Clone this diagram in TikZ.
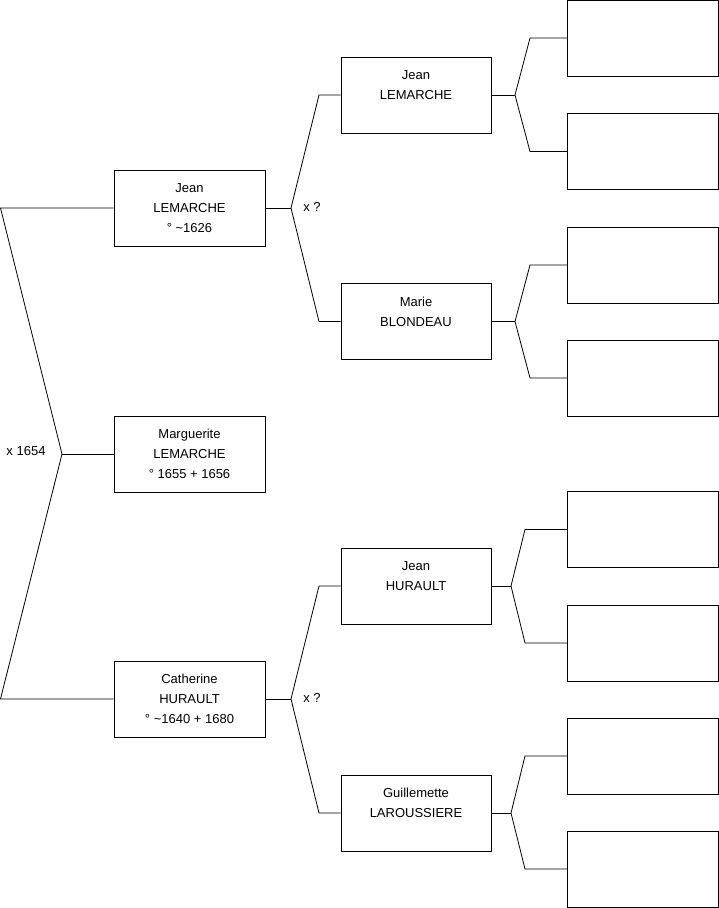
\documentclass[tikz,border=0pt]{standalone}
\usepackage{fontspec}
\setmainfont{Liberation Sans}
\begin{document}
\begin{tikzpicture}[x=1pt, y=-1pt, line width=0.8pt,
  person/.style={draw, minimum width=151pt, minimum height=76pt, align=center,
    inner sep=0pt, font=\fontsize{13}{20}\selectfont},
  tag/.style={font=\fontsize{13}{20}\selectfont}]
\useasboundingbox (0,0) rectangle (719,908);
% generation 1
\node[person] (jean) at (189.5,208) {Jean\\LEMARCHE\\° \textasciitilde1626};
\node[person] (marguerite) at (189.5,454) {Marguerite\\LEMARCHE\\° 1655 + 1656};
\node[person] (catherine) at (189.5,699) {Catherine\\HURAULT\\° \textasciitilde1640 + 1680};
% generation 2
\node[person, minimum width=150pt] (jeanp) at (416,95) {Jean\\LEMARCHE\\~};
\node[person, minimum width=150pt] (marie) at (416,321.5) {Marie\\BLONDEAU\\~};
\node[person, minimum width=150pt] (jeanh) at (416,586) {Jean\\HURAULT\\~};
\node[person, minimum width=150pt] (guillemette) at (416,813) {Guillemette\\LAROUSSIERE\\~};
% generation 3
\node[person] (a1) at (643,38) {};
\node[person] (a2) at (643,151.5) {};
\node[person] (a3) at (643,265) {};
\node[person] (a4) at (643,378) {};
\node[person] (a5) at (643,529.5) {};
\node[person] (a6) at (643,643) {};
\node[person] (a7) at (643,756) {};
\node[person] (a8) at (643,869) {};
% marriages
\coordinate (m0) at (62,454);
\coordinate (m1) at (291,208);
\coordinate (m2) at (291,699);
\coordinate (m3) at (515,95);
\coordinate (m4) at (515,321.5);
\coordinate (m5) at (511,586);
\coordinate (m6) at (511,813);
\node[tag] (x0) at (26,451) {x 1654};
\node[tag] (x1) at (312,207) {x ?};
\node[tag] (x2) at (312,698) {x ?};
\draw (marguerite.west) -- (m0);
\draw (m0) -- (0.5,208) -- (jean.west);
\draw (m0) -- (0.5,699) -- (catherine.west);
\draw (jean.east) -- (m1);
\draw (m1) -- (319,95) -- (jeanp.west);
\draw (m1) -- (319,321.5) -- (marie.west);
\draw (catherine.east) -- (m2);
\draw (m2) -- (319,586) -- (jeanh.west);
\draw (m2) -- (319,813) -- (guillemette.west);
\draw (jeanp.east) -- (m3);
\draw (m3) -- (530,38) -- (a1.west);
\draw (m3) -- (530,151.5) -- (a2.west);
\draw (marie.east) -- (m4);
\draw (m4) -- (530,265) -- (a3.west);
\draw (m4) -- (530,378) -- (a4.west);
\draw (jeanh.east) -- (m5);
\draw (m5) -- (525,529.5) -- (a5.west);
\draw (m5) -- (525,643) -- (a6.west);
\draw (guillemette.east) -- (m6);
\draw (m6) -- (525,756) -- (a7.west);
\draw (m6) -- (525,869) -- (a8.west);
\end{tikzpicture}
\end{document}
